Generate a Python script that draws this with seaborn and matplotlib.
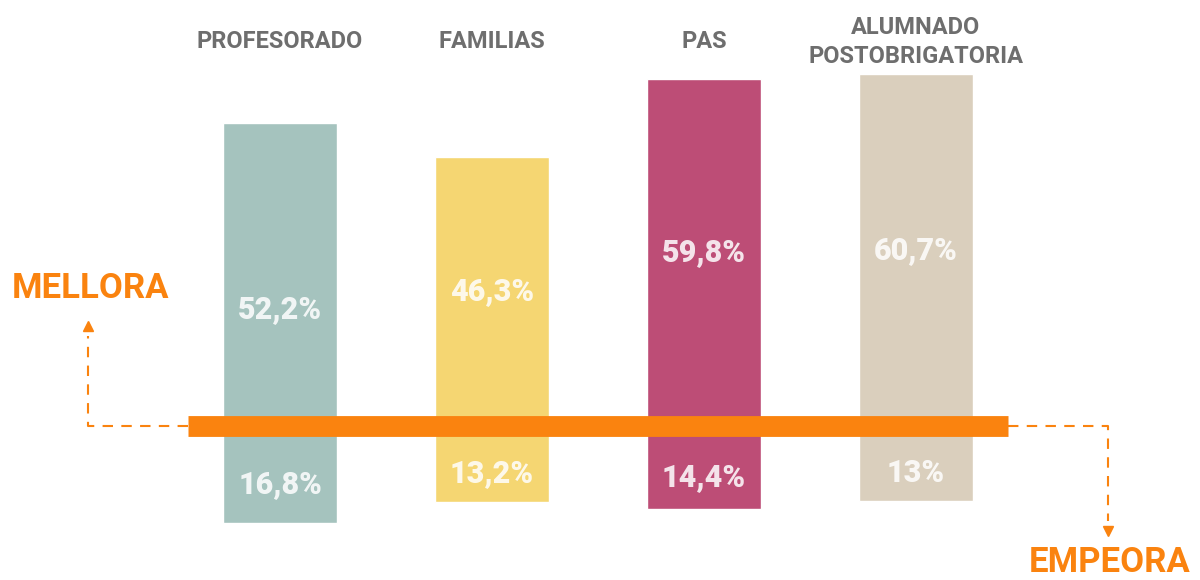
import numpy as np
import pandas as pd
import matplotlib
matplotlib.use('Agg')
import matplotlib.pyplot as plt
import seaborn as sns

sns.set_theme(style='white')
plt.rcParams['font.family'] = ['Roboto', 'DejaVu Sans']

# datos
categorias = ['PROFESORADO', 'FAMILIAS', 'PAS', 'ALUMNADO\nPOSTOBRIGATORIA']
mellora = [52.2, 46.3, 59.8, 60.7]
empeora = [16.8, 13.2, 14.4, 13.0]
etiquetas_mellora = ['52,2%', '46,3%', '59,8%', '60,7%']
etiquetas_empeora = ['16,8%', '13,2%', '14,4%', '13%']
cores = ['#a5c3be', '#f5d672', '#bd4d76', '#dacfbd']

laranxa = '#fa830f'
gris = '#6e6e6e'

df_up = pd.DataFrame({'cat': categorias, 'valor': mellora})
df_down = pd.DataFrame({'cat': categorias, 'valor': [-v for v in empeora]})

fig = plt.figure(figsize=(12, 5.8), dpi=100)
ax = fig.add_axes([0, 0, 1, 1])

sns.barplot(data=df_up, x='cat', y='valor', hue='cat', palette=cores,
            width=0.54, saturation=1, legend=False, ax=ax)
sns.barplot(data=df_down, x='cat', y='valor', hue='cat', palette=cores,
            width=0.54, saturation=1, legend=False, ax=ax)

ax.set_xlim(-1.321, 4.34)
ax.set_ylim(-26.6, 73.4)
ax.axis('off')

# liña base
ax.plot([-0.434, 3.434], [0, 0], color=laranxa, lw=15, solid_capstyle='butt', zorder=5)

# etiquetas de valores (a primeira vai algo máis abaixo, coma no orixinal)
desprazamento = [-6, 0, 0, 0]
for i in range(len(categorias)):
    ax.text(i, mellora[i] / 2 + desprazamento[i], etiquetas_mellora[i], ha='center',
            va='center', fontsize=22, fontweight='black', color='white', alpha=0.85, zorder=6)
    ax.text(i, -empeora[i] / 2 - 1.6, etiquetas_empeora[i], ha='center', va='center',
            fontsize=22, fontweight='black', color='white', alpha=0.85, zorder=6)

# títulos de categorías
for i, c in enumerate(categorias):
    ax.text(i, 66.2, c, ha='center', va='center', fontsize=17, fontweight='bold',
            color=gris, linespacing=1.35)

# frechas discontinuas
ax.plot([-0.434, -0.906, -0.906], [0, 0, 15.5], color=laranxa, lw=1.5,
        ls=(0, (5, 4)), zorder=4)
ax.plot([-0.906], [17.2], marker='^', color=laranxa, markersize=7)
ax.plot([3.434, 3.906, 3.906], [0, 0, -16.5], color=laranxa, lw=1.5,
        ls=(0, (5, 4)), zorder=4)
ax.plot([3.906], [-18.1], marker='v', color=laranxa, markersize=7)

ax.text(-1.265, 23.6, 'MELLORA', ha='left', va='center', fontsize=25,
        fontweight='bold', color=laranxa)
ax.text(4.295, -23.5, 'EMPEORA', ha='right', va='center', fontsize=25,
        fontweight='bold', color=laranxa)

plt.savefig('out.png', dpi=100)
